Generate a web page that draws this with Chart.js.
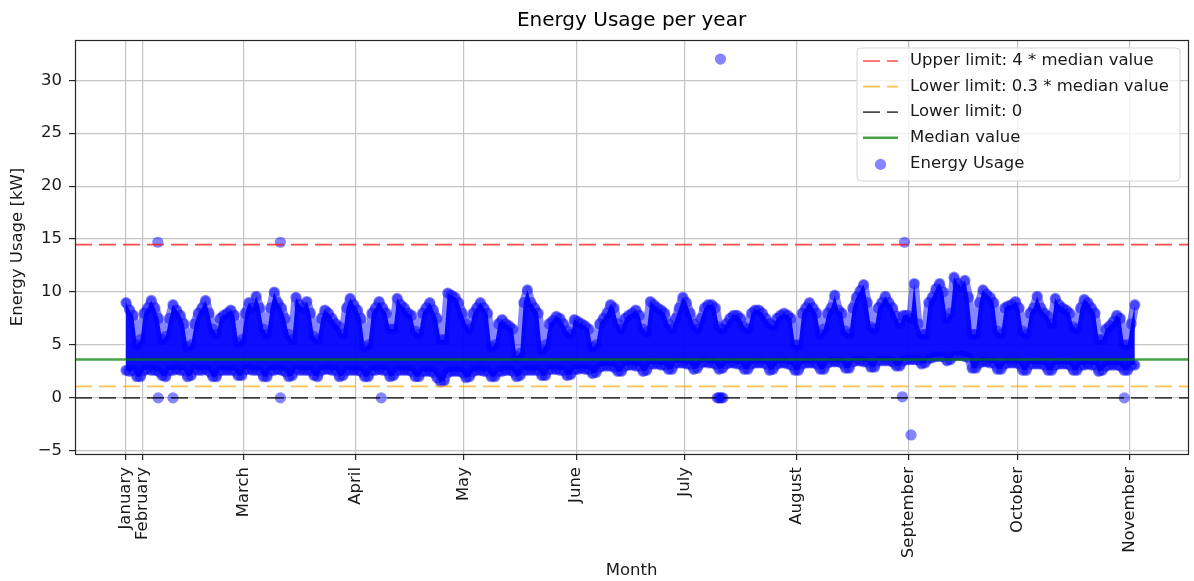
<!DOCTYPE html>
<html>
<head>
<meta charset="utf-8">
<script src="https://cdn.jsdelivr.net/npm/chart.js@4.4.1/dist/chart.umd.min.js"></script>
<style>
  html, body { margin: 0; padding: 0; background: #fff; }
</style>
</head>
<body>
<canvas id="chart" width="1194" height="581"></canvas>
<script>
// x values are day-of-year 2021 (0 = 1 January)
const monthLabels = ['January', 'February', 'March', 'April', 'May', 'June',
    'July', 'August', 'September', 'October', 'November'];
const monthTicks = [26.4, 31, 59, 90, 120, 151, 181, 212, 243, 273, 304];
const yTicks = [-5, 0, 5, 10, 15, 20, 25, 30];

const medianValue = 3.62;
const upperLimit = 14.48;
const lowerLimit = 1.09;
const zeroLimit = 0;

// daily peak / daily minimum, one value per day starting at day 26 (27 Jan)
// rows after the first run Saturday..Friday
const firstDay = 26;
const dailyHigh = [
    9.0, 8.3, 7.8,
    5.0, 5.5, 8.0, 8.5, 9.2, 8.5, 7.5,
    5.5, 5.8, 7.5, 8.8, 8.3, 7.8, 7.0,
    4.8, 5.0, 7.0, 8.0, 8.5, 9.2, 8.0,
    6.5, 6.0, 7.5, 7.8, 8.0, 8.3, 7.8,
    5.2, 5.5, 8.0, 9.0, 8.5, 9.6, 8.5,
    6.5, 6.0, 8.5, 10.0, 9.0, 8.5, 7.5,
    6.0, 5.5, 9.5, 8.8, 8.5, 9.1, 8.0,
    5.8, 5.5, 7.5, 8.3, 8.0, 7.5, 7.0,
    6.7, 6.0, 8.5, 9.4, 8.8, 8.3, 7.5,
    4.8, 5.0, 8.0, 8.5, 9.1, 8.5, 8.0,
    6.5, 6.5, 9.4, 8.8, 8.5, 8.0, 7.8,
    6.3, 6.0, 8.0, 8.5, 9.0, 8.3, 7.5,
    5.5, 5.5, 9.9, 9.7, 9.5, 9.0, 8.0,
    7.0, 6.5, 8.0, 8.5, 9.0, 8.5, 8.0,
    4.8, 5.0, 7.0, 7.4, 7.0, 6.8, 6.5,
    3.9, 4.2, 9.0, 10.2, 9.0, 8.5, 8.0,
    4.5, 5.0, 7.0, 7.3, 7.7, 7.5, 7.0,
    6.3, 6.0, 7.4, 7.2, 7.0, 6.8, 6.5,
    4.8, 5.0, 7.0, 7.5, 8.0, 8.8, 8.5,
    7.0, 6.5, 7.5, 7.8, 8.0, 8.3, 7.8,
    6.5, 6.2, 9.1, 8.8, 8.5, 8.3, 8.0,
    7.0, 6.5, 7.5, 8.5, 9.5, 9.0, 8.0,
    7.0, 6.5, 7.5, 8.5, 8.8, 8.8, 8.5,
    6.7, 6.5, 7.0, 7.5, 7.8, 7.8, 7.5,
    6.7, 6.5, 8.0, 8.3, 8.3, 8.0, 7.5,
    7.0, 6.8, 7.5, 7.8, 8.0, 7.8, 7.5,
    5.0, 5.0, 8.0, 8.5, 9.0, 8.5, 8.0,
    6.0, 6.5, 8.0, 8.5, 9.7, 8.3, 8.0,
    6.3, 6.0, 8.5, 9.5, 10.1, 10.7, 9.0,
    6.7, 6.5, 8.5, 9.0, 9.6, 9.0, 8.5,
    7.7, 7.0, 7.8, 7.8, 7.5, 10.8, 7.0,
    6.0, 6.0, 9.0, 9.5, 10.3, 10.8, 10.0,
    7.5, 8.0, 11.4, 10.8, 10.5, 11.1, 9.5,
    6.0, 6.0, 9.0, 10.2, 9.8, 9.5, 9.0,
    6.3, 6.0, 8.5, 8.7, 8.8, 9.1, 8.5,
    6.3, 6.0, 8.0, 8.5, 9.6, 8.5, 8.0,
    7.7, 7.0, 9.4, 8.8, 8.5, 8.3, 8.0,
    6.7, 6.5, 8.5, 9.3, 9.0, 8.5, 8.0,
    5.5, 5.5, 6.5, 6.8, 7.2, 7.8, 7.5,
    5.0, 5.0, 7.0, 8.8
];
const dailyLow = [
    2.6, 2.5, 2.6,
    2.0, 2.0, 2.6, 2.7, 2.6, 2.6, 2.5,
    2.1, 2.0, 2.6, 2.6, 2.7, 2.6, 2.6,
    2.0, 2.1, 2.7, 2.6, 2.6, 2.7, 2.5,
    2.0, 2.0, 2.6, 2.6, 2.6, 2.6, 2.6,
    2.1, 2.1, 2.7, 2.7, 2.6, 2.6, 2.6,
    2.0, 2.0, 2.6, 2.6, 2.7, 2.6, 2.5,
    2.0, 2.1, 2.7, 2.6, 2.6, 2.6, 2.6,
    2.1, 2.0, 2.6, 2.7, 2.7, 2.6, 2.6,
    2.0, 2.1, 2.6, 2.6, 2.6, 2.6, 2.5,
    2.0, 2.0, 2.6, 2.6, 2.7, 2.6, 2.6,
    2.0, 2.1, 2.6, 2.6, 2.6, 2.6, 2.5,
    2.0, 2.0, 2.5, 2.5, 2.5, 2.4, 1.9,
    1.5, 1.6, 2.4, 2.5, 2.5, 2.5, 2.4,
    1.9, 2.0, 2.5, 2.6, 2.6, 2.5, 2.5,
    2.0, 2.0, 2.5, 2.5, 2.6, 2.6, 2.5,
    2.0, 2.1, 2.6, 2.6, 2.6, 2.6, 2.6,
    2.1, 2.1, 2.7, 2.7, 2.7, 2.6, 2.6,
    2.1, 2.2, 2.7, 2.7, 2.8, 2.7, 2.7,
    2.3, 2.4, 2.9, 3.0, 3.0, 3.0, 2.9,
    2.5, 2.5, 3.0, 3.1, 3.1, 3.0, 3.0,
    2.5, 2.6, 3.2, 3.2, 3.2, 3.1, 3.1,
    2.7, 2.7, 3.3, 3.3, 3.3, 3.2, 3.2,
    2.7, 2.8, 3.3, 3.4, 3.3, 3.3, 3.2,
    2.7, 2.8, 3.2, 3.3, 3.3, 3.2, 3.2,
    2.7, 2.7, 3.2, 3.3, 3.3, 3.3, 3.2,
    2.6, 2.7, 3.2, 3.3, 3.3, 3.2, 3.1,
    2.6, 2.6, 3.2, 3.3, 3.3, 3.3, 3.2,
    2.7, 2.7, 3.3, 3.4, 3.4, 3.4, 3.3,
    2.8, 2.8, 3.4, 3.5, 3.5, 3.4, 3.4,
    2.9, 2.9, 3.5, 3.5, 3.5, 3.5, 3.4,
    3.0, 3.0, 3.5, 3.6, 3.6, 3.6, 3.6,
    3.2, 3.3, 3.7, 3.8, 3.9, 3.9, 3.9,
    3.5, 3.6, 4.0, 4.0, 4.0, 3.9, 3.8,
    2.8, 2.8, 3.3, 3.4, 3.4, 3.3, 3.3,
    2.7, 2.7, 3.2, 3.3, 3.3, 3.3, 3.2,
    2.6, 2.6, 3.2, 3.2, 3.2, 3.2, 3.1,
    2.6, 2.6, 3.1, 3.2, 3.2, 3.2, 3.1,
    2.6, 2.6, 3.1, 3.1, 3.2, 3.1, 3.1,
    2.5, 2.6, 3.0, 3.1, 3.1, 3.1, 3.0,
    2.6, 2.6, 3.1, 3.1
];

// isolated readings away from the daily band
const outlierDays = [35.3, 35.4, 39.5, 69.2, 69.2, 97.1, 190.0, 190.4, 190.8, 191.2, 191.6,
    190.9, 241.8, 241.2, 243.6, 302.6];
const outlierValues = [14.7, 0, 0, 14.7, 0, 0, 0, 0, 0, 0, 0,
    32.0, 14.7, 0.1, -3.5, 0];

const xMin = 12.4, xMax = 320.2;
const yMin = -5.3, yMax = 33.8;

const FONT = "'DejaVu Sans', sans-serif";
const BLUE_SOFT = 'rgba(0,0,255,0.48)';

const highPts = dailyHigh.map((v, i) => ({ x: firstDay + i + 0.5, y: v }));
const lowPts = dailyLow.map((v, i) => ({ x: firstDay + i + 0.5, y: v }));
const usagePts = highPts.concat(lowPts,
    outlierDays.map((d, i) => ({ x: d, y: outlierValues[i] })));

function flatLine(label, value, color, width, dash, legendIndex) {
    return {
        type: 'line', label: label, legendIndex: legendIndex,
        data: [{ x: xMin, y: value }, { x: xMax, y: value }],
        borderColor: color, borderWidth: width, borderDash: dash,
        pointRadius: 0, fill: false, order: 0
    };
}

const framePlugin = {
    id: 'frame',
    afterDraw(chart) {
        const { ctx, chartArea: a } = chart;
        ctx.save();
        // plot frame
        ctx.strokeStyle = '#262626';
        ctx.lineWidth = 1.2;
        ctx.strokeRect(Math.round(a.left) + 0.5, Math.round(a.top) + 0.5,
            Math.round(a.right - a.left), Math.round(a.bottom - a.top));

        // title
        ctx.fillStyle = '#000';
        ctx.font = '20px ' + FONT;
        ctx.textAlign = 'center';
        ctx.textBaseline = 'middle';
        ctx.fillText('Energy Usage per year', (a.left + a.right) / 2, 21);

        // legend box, top right inside the axes
        const bx = 857, by = 48, bw = 323, bh = 133, r = 4;
        ctx.beginPath();
        ctx.moveTo(bx + r, by);
        ctx.arcTo(bx + bw, by, bx + bw, by + bh, r);
        ctx.arcTo(bx + bw, by + bh, bx, by + bh, r);
        ctx.arcTo(bx, by + bh, bx, by, r);
        ctx.arcTo(bx, by, bx + bw, by, r);
        ctx.closePath();
        ctx.fillStyle = 'rgba(255,255,255,0.8)';
        ctx.fill();
        ctx.strokeStyle = '#d6d6d6';
        ctx.lineWidth = 1;
        ctx.stroke();

        const items = chart.data.datasets.filter(d => d.label);
        items.sort((p, q) => p.legendIndex - q.legendIndex);
        ctx.textAlign = 'left';
        ctx.font = '16.5px ' + FONT;
        items.forEach((ds, i) => {
            const cy = 61 + i * 25.6;
            if (ds.type === 'line') {
                ctx.beginPath();
                ctx.setLineDash(ds.borderDash || []);
                ctx.strokeStyle = ds.borderColor;
                ctx.lineWidth = ds.borderWidth;
                ctx.moveTo(863, cy);
                ctx.lineTo(898, cy);
                ctx.stroke();
                ctx.setLineDash([]);
            } else {
                ctx.beginPath();
                ctx.fillStyle = ds.backgroundColor;
                ctx.arc(880.5, cy + 1, ds.pointRadius, 0, Math.PI * 2);
                ctx.fill();
            }
            ctx.fillStyle = '#1a1a1a';
            ctx.fillText(ds.label, 910, cy);
        });
        ctx.restore();
    }
};

new Chart(document.getElementById('chart'), {
    type: 'scatter',
    data: {
        datasets: [
            {
                // upper envelope of the daily cloud
                type: 'line', data: highPts, tension: 0,
                borderColor: BLUE_SOFT, borderWidth: 9,
                borderJoinStyle: 'round', borderCapStyle: 'round',
                pointRadius: 0, fill: false, order: 3
            },
            {
                // lower envelope, filled up to the upper one
                type: 'line', data: lowPts, tension: 0,
                borderColor: BLUE_SOFT, borderWidth: 9,
                borderJoinStyle: 'round', borderCapStyle: 'round',
                pointRadius: 0, fill: '-1',
                backgroundColor: 'rgba(0,0,255,0.95)', order: 3
            },
            {
                type: 'scatter', label: 'Energy Usage', legendIndex: 4,
                data: usagePts, pointRadius: 5.6, borderWidth: 0,
                backgroundColor: BLUE_SOFT, order: 2
            },
            flatLine('Upper limit: 4 * median value', upperLimit, 'rgba(255,0,0,0.7)', 1.7, [17, 7], 0),
            flatLine('Lower limit: 0.3 * median value', lowerLimit, 'rgba(255,165,0,0.7)', 1.7, [17, 7], 1),
            flatLine('Lower limit: 0', zeroLimit, 'rgba(0,0,0,0.7)', 1.7, [17, 7], 2),
            flatLine('Median value', medianValue, 'rgba(0,128,0,0.72)', 2.6, [], 3)
        ]
    },
    options: {
        responsive: false,
        animation: false,
        events: [],
        layout: { padding: { top: 40, right: 6, left: 0, bottom: 0 } },
        plugins: { legend: { display: false }, tooltip: { enabled: false } },
        scales: {
            x: {
                type: 'linear', min: xMin, max: xMax,
                afterBuildTicks: axis => { axis.ticks = monthTicks.map(v => ({ value: v })); },
                afterFit: axis => { axis.height = 127; },
                ticks: {
                    callback: (v, i) => monthLabels[i],
                    minRotation: 90, maxRotation: 90, autoSkip: false,
                    padding: 7, color: '#1a1a1a', font: { family: FONT, size: 16.5 }
                },
                grid: { color: '#c4c4c4', lineWidth: 1.2, tickColor: '#262626', tickLength: 6 },
                border: { display: false },
                title: {
                    display: true, text: 'Month', color: '#1a1a1a',
                    font: { family: FONT, size: 16.5 }, padding: { top: 0, bottom: 0 }
                }
            },
            y: {
                type: 'linear', min: yMin, max: yMax,
                afterBuildTicks: axis => { axis.ticks = yTicks.map(v => ({ value: v })); },
                afterFit: axis => { axis.width = 75; },
                ticks: {
                    callback: v => (v < 0 ? '\u2212' + Math.abs(v) : String(v)),
                    padding: 7, color: '#1a1a1a', font: { family: FONT, size: 16.5 }
                },
                grid: { color: '#c4c4c4', lineWidth: 1.2, tickColor: '#262626', tickLength: 6 },
                border: { display: false },
                title: {
                    display: true, text: 'Energy Usage [kW]', color: '#1a1a1a',
                    font: { family: FONT, size: 16.5 }, padding: { top: 8, bottom: 0 }
                }
            }
        }
    },
    plugins: [framePlugin]
});
</script>
</body>
</html>
